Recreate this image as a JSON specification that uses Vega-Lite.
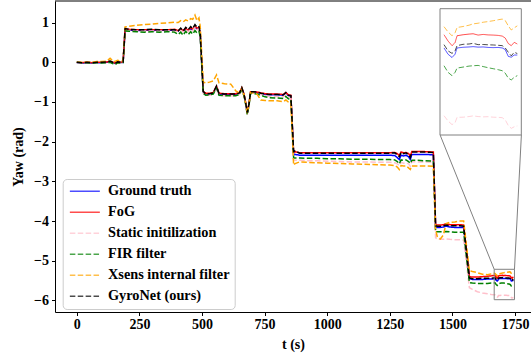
{
  "$schema": "https://vega.github.io/schema/vega-lite/v6.json",
  "width": 476,
  "height": 311,
  "autosize": {"type": "none"},
  "padding": {"left": 55, "top": 1, "right": 0, "bottom": 42},
  "datasets": {
    "yaw": [
      {"t": 0, "Ground truth": -0.01, "FoG": 0.0, "Static initilization": -0.01, "FIR filter": 0.0, "Xsens internal filter": 0.0, "GyroNet (ours)": 0.0},
      {"t": 20, "Ground truth": -0.02, "FoG": -0.01, "Static initilization": -0.02, "FIR filter": -0.01, "Xsens internal filter": 0.0, "GyroNet (ours)": -0.01},
      {"t": 40, "Ground truth": -0.01, "FoG": 0.0, "Static initilization": -0.01, "FIR filter": -0.01, "Xsens internal filter": 0.01, "GyroNet (ours)": 0.0},
      {"t": 60, "Ground truth": -0.02, "FoG": -0.01, "Static initilization": -0.02, "FIR filter": -0.02, "Xsens internal filter": 0.0, "GyroNet (ours)": -0.01},
      {"t": 80, "Ground truth": -0.01, "FoG": 0.0, "Static initilization": -0.01, "FIR filter": -0.01, "Xsens internal filter": 0.02, "GyroNet (ours)": 0.0},
      {"t": 100, "Ground truth": -0.01, "FoG": 0.0, "Static initilization": -0.01, "FIR filter": -0.02, "Xsens internal filter": 0.02, "GyroNet (ours)": 0.0},
      {"t": 120, "Ground truth": 0.0, "FoG": 0.01, "Static initilization": -0.01, "FIR filter": -0.01, "Xsens internal filter": 0.03, "GyroNet (ours)": 0.01},
      {"t": 133, "Ground truth": 0.01, "FoG": 0.02, "Static initilization": 0.0, "FIR filter": 0.0, "Xsens internal filter": 0.1, "GyroNet (ours)": 0.03},
      {"t": 143, "Ground truth": -0.01, "FoG": 0.0, "Static initilization": -0.02, "FIR filter": -0.03, "Xsens internal filter": 0.04, "GyroNet (ours)": 0.0},
      {"t": 153, "Ground truth": -0.03, "FoG": -0.02, "Static initilization": -0.04, "FIR filter": -0.06, "Xsens internal filter": 0.02, "GyroNet (ours)": -0.03},
      {"t": 163, "Ground truth": 0.0, "FoG": 0.01, "Static initilization": -0.01, "FIR filter": -0.01, "Xsens internal filter": 0.05, "GyroNet (ours)": 0.01},
      {"t": 175, "Ground truth": -0.01, "FoG": 0.0, "Static initilization": -0.02, "FIR filter": -0.02, "Xsens internal filter": 0.03, "GyroNet (ours)": 0.0},
      {"t": 185, "Ground truth": 0.0, "FoG": 0.01, "Static initilization": -0.01, "FIR filter": -0.01, "Xsens internal filter": 0.04, "GyroNet (ours)": 0.01},
      {"t": 193, "Ground truth": 0.82, "FoG": 0.84, "Static initilization": 0.8, "FIR filter": 0.79, "Xsens internal filter": 0.89, "GyroNet (ours)": 0.85},
      {"t": 210, "Ground truth": 0.81, "FoG": 0.83, "Static initilization": 0.8, "FIR filter": 0.78, "Xsens internal filter": 0.91, "GyroNet (ours)": 0.83},
      {"t": 240, "Ground truth": 0.8, "FoG": 0.82, "Static initilization": 0.79, "FIR filter": 0.77, "Xsens internal filter": 0.93, "GyroNet (ours)": 0.82},
      {"t": 270, "Ground truth": 0.81, "FoG": 0.82, "Static initilization": 0.79, "FIR filter": 0.76, "Xsens internal filter": 0.95, "GyroNet (ours)": 0.82},
      {"t": 300, "Ground truth": 0.8, "FoG": 0.82, "Static initilization": 0.79, "FIR filter": 0.77, "Xsens internal filter": 0.96, "GyroNet (ours)": 0.83},
      {"t": 330, "Ground truth": 0.81, "FoG": 0.82, "Static initilization": 0.79, "FIR filter": 0.76, "Xsens internal filter": 0.98, "GyroNet (ours)": 0.82},
      {"t": 360, "Ground truth": 0.8, "FoG": 0.82, "Static initilization": 0.79, "FIR filter": 0.77, "Xsens internal filter": 0.99, "GyroNet (ours)": 0.82},
      {"t": 390, "Ground truth": 0.81, "FoG": 0.83, "Static initilization": 0.79, "FIR filter": 0.76, "Xsens internal filter": 1.01, "GyroNet (ours)": 0.82},
      {"t": 405, "Ground truth": 0.79, "FoG": 0.8, "Static initilization": 0.77, "FIR filter": 0.7, "Xsens internal filter": 1.0, "GyroNet (ours)": 0.79},
      {"t": 415, "Ground truth": 0.83, "FoG": 0.84, "Static initilization": 0.81, "FIR filter": 0.76, "Xsens internal filter": 1.05, "GyroNet (ours)": 0.86},
      {"t": 425, "Ground truth": 0.78, "FoG": 0.8, "Static initilization": 0.76, "FIR filter": 0.68, "Xsens internal filter": 1.02, "GyroNet (ours)": 0.79},
      {"t": 435, "Ground truth": 0.84, "FoG": 0.85, "Static initilization": 0.82, "FIR filter": 0.78, "Xsens internal filter": 1.07, "GyroNet (ours)": 0.88},
      {"t": 445, "Ground truth": 0.79, "FoG": 0.81, "Static initilization": 0.77, "FIR filter": 0.7, "Xsens internal filter": 1.04, "GyroNet (ours)": 0.82},
      {"t": 455, "Ground truth": 0.85, "FoG": 0.87, "Static initilization": 0.83, "FIR filter": 0.77, "Xsens internal filter": 1.1, "GyroNet (ours)": 0.9},
      {"t": 463, "Ground truth": 0.81, "FoG": 0.83, "Static initilization": 0.79, "FIR filter": 0.71, "Xsens internal filter": 1.08, "GyroNet (ours)": 0.85},
      {"t": 472, "Ground truth": 0.9, "FoG": 0.91, "Static initilization": 0.88, "FIR filter": 0.8, "Xsens internal filter": 1.19, "GyroNet (ours)": 0.95},
      {"t": 480, "Ground truth": 0.84, "FoG": 0.86, "Static initilization": 0.82, "FIR filter": 0.74, "Xsens internal filter": 1.05, "GyroNet (ours)": 0.88},
      {"t": 488, "Ground truth": 0.86, "FoG": 0.88, "Static initilization": 0.84, "FIR filter": 0.78, "Xsens internal filter": 1.12, "GyroNet (ours)": 0.9},
      {"t": 493, "Ground truth": 0.7, "FoG": 0.72, "Static initilization": 0.68, "FIR filter": 0.64, "Xsens internal filter": 0.9, "GyroNet (ours)": 0.74},
      {"t": 505, "Ground truth": -0.75, "FoG": -0.73, "Static initilization": -0.78, "FIR filter": -0.78, "Xsens internal filter": -0.5, "GyroNet (ours)": -0.74},
      {"t": 515, "Ground truth": -0.8, "FoG": -0.78, "Static initilization": -0.83, "FIR filter": -0.83, "Xsens internal filter": -0.52, "GyroNet (ours)": -0.79},
      {"t": 530, "Ground truth": -0.8, "FoG": -0.78, "Static initilization": -0.83, "FIR filter": -0.82, "Xsens internal filter": -0.5, "GyroNet (ours)": -0.79},
      {"t": 545, "Ground truth": -0.78, "FoG": -0.76, "Static initilization": -0.81, "FIR filter": -0.8, "Xsens internal filter": -0.47, "GyroNet (ours)": -0.77},
      {"t": 558, "Ground truth": -0.62, "FoG": -0.6, "Static initilization": -0.65, "FIR filter": -0.64, "Xsens internal filter": -0.32, "GyroNet (ours)": -0.6},
      {"t": 568, "Ground truth": -0.8, "FoG": -0.78, "Static initilization": -0.83, "FIR filter": -0.83, "Xsens internal filter": -0.52, "GyroNet (ours)": -0.79},
      {"t": 590, "Ground truth": -0.81, "FoG": -0.79, "Static initilization": -0.84, "FIR filter": -0.84, "Xsens internal filter": -0.54, "GyroNet (ours)": -0.8},
      {"t": 615, "Ground truth": -0.81, "FoG": -0.79, "Static initilization": -0.84, "FIR filter": -0.84, "Xsens internal filter": -0.55, "GyroNet (ours)": -0.8},
      {"t": 635, "Ground truth": -0.81, "FoG": -0.79, "Static initilization": -0.84, "FIR filter": -0.84, "Xsens internal filter": -0.72, "GyroNet (ours)": -0.8},
      {"t": 650, "Ground truth": -0.78, "FoG": -0.76, "Static initilization": -0.81, "FIR filter": -0.81, "Xsens internal filter": -0.78, "GyroNet (ours)": -0.77},
      {"t": 659, "Ground truth": -0.66, "FoG": -0.64, "Static initilization": -0.69, "FIR filter": -0.69, "Xsens internal filter": -0.66, "GyroNet (ours)": -0.64},
      {"t": 668, "Ground truth": -0.82, "FoG": -0.8, "Static initilization": -0.85, "FIR filter": -0.85, "Xsens internal filter": -0.82, "GyroNet (ours)": -0.81},
      {"t": 675, "Ground truth": -1.05, "FoG": -1.03, "Static initilization": -1.08, "FIR filter": -1.08, "Xsens internal filter": -1.05, "GyroNet (ours)": -1.04},
      {"t": 681, "Ground truth": -1.28, "FoG": -1.26, "Static initilization": -1.32, "FIR filter": -1.32, "Xsens internal filter": -1.28, "GyroNet (ours)": -1.27},
      {"t": 688, "Ground truth": -1.05, "FoG": -1.03, "Static initilization": -1.08, "FIR filter": -1.08, "Xsens internal filter": -1.05, "GyroNet (ours)": -1.04},
      {"t": 694, "Ground truth": -0.76, "FoG": -0.74, "Static initilization": -0.78, "FIR filter": -0.78, "Xsens internal filter": -0.76, "GyroNet (ours)": -0.74},
      {"t": 705, "Ground truth": -0.76, "FoG": -0.74, "Static initilization": -0.78, "FIR filter": -0.79, "Xsens internal filter": -0.77, "GyroNet (ours)": -0.74},
      {"t": 720, "Ground truth": -0.77, "FoG": -0.75, "Static initilization": -0.79, "FIR filter": -0.8, "Xsens internal filter": -0.8, "GyroNet (ours)": -0.75},
      {"t": 735, "Ground truth": -0.79, "FoG": -0.77, "Static initilization": -0.81, "FIR filter": -0.83, "Xsens internal filter": -0.95, "GyroNet (ours)": -0.78},
      {"t": 752, "Ground truth": -0.81, "FoG": -0.79, "Static initilization": -0.84, "FIR filter": -0.87, "Xsens internal filter": -0.96, "GyroNet (ours)": -0.8},
      {"t": 770, "Ground truth": -0.82, "FoG": -0.8, "Static initilization": -0.86, "FIR filter": -0.89, "Xsens internal filter": -0.97, "GyroNet (ours)": -0.81},
      {"t": 800, "Ground truth": -0.82, "FoG": -0.8, "Static initilization": -0.86, "FIR filter": -0.9, "Xsens internal filter": -0.97, "GyroNet (ours)": -0.81},
      {"t": 825, "Ground truth": -0.83, "FoG": -0.81, "Static initilization": -0.87, "FIR filter": -0.91, "Xsens internal filter": -0.99, "GyroNet (ours)": -0.82},
      {"t": 835, "Ground truth": -0.78, "FoG": -0.76, "Static initilization": -0.82, "FIR filter": -0.86, "Xsens internal filter": -0.95, "GyroNet (ours)": -0.76},
      {"t": 845, "Ground truth": -0.84, "FoG": -0.82, "Static initilization": -0.88, "FIR filter": -0.92, "Xsens internal filter": -1.0, "GyroNet (ours)": -0.83},
      {"t": 855, "Ground truth": -0.85, "FoG": -0.83, "Static initilization": -0.89, "FIR filter": -0.93, "Xsens internal filter": -1.02, "GyroNet (ours)": -0.84},
      {"t": 866, "Ground truth": -2.33, "FoG": -2.28, "Static initilization": -2.46, "FIR filter": -2.41, "Xsens internal filter": -2.59, "GyroNet (ours)": -2.25},
      {"t": 872, "Ground truth": -2.32, "FoG": -2.25, "Static initilization": -2.47, "FIR filter": -2.41, "Xsens internal filter": -2.55, "GyroNet (ours)": -2.23},
      {"t": 890, "Ground truth": -2.34, "FoG": -2.28, "Static initilization": -2.47, "FIR filter": -2.41, "Xsens internal filter": -2.51, "GyroNet (ours)": -2.29},
      {"t": 920, "Ground truth": -2.34, "FoG": -2.28, "Static initilization": -2.48, "FIR filter": -2.42, "Xsens internal filter": -2.52, "GyroNet (ours)": -2.29},
      {"t": 960, "Ground truth": -2.34, "FoG": -2.28, "Static initilization": -2.48, "FIR filter": -2.42, "Xsens internal filter": -2.53, "GyroNet (ours)": -2.29},
      {"t": 1000, "Ground truth": -2.34, "FoG": -2.28, "Static initilization": -2.49, "FIR filter": -2.43, "Xsens internal filter": -2.54, "GyroNet (ours)": -2.29},
      {"t": 1050, "Ground truth": -2.34, "FoG": -2.28, "Static initilization": -2.5, "FIR filter": -2.43, "Xsens internal filter": -2.55, "GyroNet (ours)": -2.29},
      {"t": 1100, "Ground truth": -2.34, "FoG": -2.28, "Static initilization": -2.51, "FIR filter": -2.44, "Xsens internal filter": -2.56, "GyroNet (ours)": -2.29},
      {"t": 1150, "Ground truth": -2.34, "FoG": -2.28, "Static initilization": -2.51, "FIR filter": -2.44, "Xsens internal filter": -2.57, "GyroNet (ours)": -2.29},
      {"t": 1200, "Ground truth": -2.34, "FoG": -2.28, "Static initilization": -2.52, "FIR filter": -2.45, "Xsens internal filter": -2.58, "GyroNet (ours)": -2.29},
      {"t": 1250, "Ground truth": -2.34, "FoG": -2.28, "Static initilization": -2.52, "FIR filter": -2.45, "Xsens internal filter": -2.59, "GyroNet (ours)": -2.29},
      {"t": 1270, "Ground truth": -2.35, "FoG": -2.27, "Static initilization": -2.53, "FIR filter": -2.46, "Xsens internal filter": -2.6, "GyroNet (ours)": -2.28},
      {"t": 1280, "Ground truth": -2.4, "FoG": -2.3, "Static initilization": -2.56, "FIR filter": -2.5, "Xsens internal filter": -2.64, "GyroNet (ours)": -2.33},
      {"t": 1288, "Ground truth": -2.45, "FoG": -2.35, "Static initilization": -2.6, "FIR filter": -2.56, "Xsens internal filter": -2.7, "GyroNet (ours)": -2.38},
      {"t": 1295, "Ground truth": -2.34, "FoG": -2.26, "Static initilization": -2.52, "FIR filter": -2.46, "Xsens internal filter": -2.6, "GyroNet (ours)": -2.27},
      {"t": 1305, "Ground truth": -2.36, "FoG": -2.28, "Static initilization": -2.54, "FIR filter": -2.47, "Xsens internal filter": -2.61, "GyroNet (ours)": -2.3},
      {"t": 1315, "Ground truth": -2.34, "FoG": -2.27, "Static initilization": -2.53, "FIR filter": -2.46, "Xsens internal filter": -2.61, "GyroNet (ours)": -2.28},
      {"t": 1325, "Ground truth": -2.38, "FoG": -2.3, "Static initilization": -2.56, "FIR filter": -2.5, "Xsens internal filter": -2.66, "GyroNet (ours)": -2.33},
      {"t": 1332, "Ground truth": -2.45, "FoG": -2.36, "Static initilization": -2.62, "FIR filter": -2.55, "Xsens internal filter": -2.7, "GyroNet (ours)": -2.4},
      {"t": 1338, "Ground truth": -2.32, "FoG": -2.25, "Static initilization": -2.5, "FIR filter": -2.47, "Xsens internal filter": -2.61, "GyroNet (ours)": -2.26},
      {"t": 1360, "Ground truth": -2.32, "FoG": -2.25, "Static initilization": -2.51, "FIR filter": -2.47, "Xsens internal filter": -2.61, "GyroNet (ours)": -2.26},
      {"t": 1390, "Ground truth": -2.32, "FoG": -2.25, "Static initilization": -2.51, "FIR filter": -2.48, "Xsens internal filter": -2.61, "GyroNet (ours)": -2.26},
      {"t": 1424, "Ground truth": -2.33, "FoG": -2.26, "Static initilization": -2.52, "FIR filter": -2.49, "Xsens internal filter": -2.62, "GyroNet (ours)": -2.27},
      {"t": 1433, "Ground truth": -4.15, "FoG": -4.09, "Static initilization": -4.42, "FIR filter": -4.27, "Xsens internal filter": -4.22, "GyroNet (ours)": -4.12},
      {"t": 1440, "Ground truth": -4.16, "FoG": -4.1, "Static initilization": -4.46, "FIR filter": -4.27, "Xsens internal filter": -4.4, "GyroNet (ours)": -4.13},
      {"t": 1452, "Ground truth": -4.16, "FoG": -4.1, "Static initilization": -4.46, "FIR filter": -4.27, "Xsens internal filter": -4.45, "GyroNet (ours)": -4.13},
      {"t": 1464, "Ground truth": -4.15, "FoG": -4.09, "Static initilization": -4.46, "FIR filter": -4.27, "Xsens internal filter": -4.35, "GyroNet (ours)": -4.12},
      {"t": 1475, "Ground truth": -4.13, "FoG": -4.07, "Static initilization": -4.45, "FIR filter": -4.26, "Xsens internal filter": -4.06, "GyroNet (ours)": -4.1},
      {"t": 1490, "Ground truth": -4.15, "FoG": -4.09, "Static initilization": -4.46, "FIR filter": -4.27, "Xsens internal filter": -4.03, "GyroNet (ours)": -4.12},
      {"t": 1510, "Ground truth": -4.16, "FoG": -4.09, "Static initilization": -4.47, "FIR filter": -4.28, "Xsens internal filter": -4.02, "GyroNet (ours)": -4.12},
      {"t": 1530, "Ground truth": -4.16, "FoG": -4.09, "Static initilization": -4.47, "FIR filter": -4.28, "Xsens internal filter": -4.0, "GyroNet (ours)": -4.12},
      {"t": 1545, "Ground truth": -4.16, "FoG": -4.1, "Static initilization": -4.48, "FIR filter": -4.28, "Xsens internal filter": -4.0, "GyroNet (ours)": -4.13},
      {"t": 1568, "Ground truth": -5.45, "FoG": -5.4, "Static initilization": -5.68, "FIR filter": -5.55, "Xsens internal filter": -5.25, "GyroNet (ours)": -5.43},
      {"t": 1580, "Ground truth": -5.47, "FoG": -5.41, "Static initilization": -5.72, "FIR filter": -5.56, "Xsens internal filter": -5.27, "GyroNet (ours)": -5.45},
      {"t": 1600, "Ground truth": -5.47, "FoG": -5.41, "Static initilization": -5.78, "FIR filter": -5.57, "Xsens internal filter": -5.3, "GyroNet (ours)": -5.45},
      {"t": 1620, "Ground truth": -5.47, "FoG": -5.4, "Static initilization": -5.81, "FIR filter": -5.57, "Xsens internal filter": -5.34, "GyroNet (ours)": -5.44},
      {"t": 1640, "Ground truth": -5.46, "FoG": -5.39, "Static initilization": -5.83, "FIR filter": -5.57, "Xsens internal filter": -5.35, "GyroNet (ours)": -5.44},
      {"t": 1655, "Ground truth": -5.46, "FoG": -5.38, "Static initilization": -5.85, "FIR filter": -5.56, "Xsens internal filter": -5.33, "GyroNet (ours)": -5.44},
      {"t": 1668, "Ground truth": -5.452, "FoG": -5.368, "Static initilization": -5.858, "FIR filter": -5.556, "Xsens internal filter": -5.315, "GyroNet (ours)": -5.43},
      {"t": 1671, "Ground truth": -5.452, "FoG": -5.372, "Static initilization": -5.863, "FIR filter": -5.56, "Xsens internal filter": -5.323, "GyroNet (ours)": -5.432},
      {"t": 1675, "Ground truth": -5.49, "FoG": -5.41, "Static initilization": -5.895, "FIR filter": -5.6, "Xsens internal filter": -5.355, "GyroNet (ours)": -5.47},
      {"t": 1679, "Ground truth": -5.51, "FoG": -5.438, "Static initilization": -5.917, "FIR filter": -5.62, "Xsens internal filter": -5.378, "GyroNet (ours)": -5.485},
      {"t": 1682, "Ground truth": -5.49, "FoG": -5.42, "Static initilization": -5.905, "FIR filter": -5.6, "Xsens internal filter": -5.36, "GyroNet (ours)": -5.47},
      {"t": 1684, "Ground truth": -5.452, "FoG": -5.378, "Static initilization": -5.873, "FIR filter": -5.574, "Xsens internal filter": -5.328, "GyroNet (ours)": -5.438},
      {"t": 1690, "Ground truth": -5.448, "FoG": -5.372, "Static initilization": -5.872, "FIR filter": -5.568, "Xsens internal filter": -5.322, "GyroNet (ours)": -5.43},
      {"t": 1696, "Ground truth": -5.446, "FoG": -5.368, "Static initilization": -5.868, "FIR filter": -5.562, "Xsens internal filter": -5.314, "GyroNet (ours)": -5.428},
      {"t": 1700, "Ground truth": -5.444, "FoG": -5.366, "Static initilization": -5.864, "FIR filter": -5.56, "Xsens internal filter": -5.306, "GyroNet (ours)": -5.424},
      {"t": 1705, "Ground truth": -5.447, "FoG": -5.374, "Static initilization": -5.868, "FIR filter": -5.558, "Xsens internal filter": -5.302, "GyroNet (ours)": -5.432},
      {"t": 1710, "Ground truth": -5.446, "FoG": -5.37, "Static initilization": -5.87, "FIR filter": -5.565, "Xsens internal filter": -5.296, "GyroNet (ours)": -5.431},
      {"t": 1715, "Ground truth": -5.449, "FoG": -5.373, "Static initilization": -5.869, "FIR filter": -5.572, "Xsens internal filter": -5.292, "GyroNet (ours)": -5.433},
      {"t": 1720, "Ground truth": -5.45, "FoG": -5.374, "Static initilization": -5.872, "FIR filter": -5.578, "Xsens internal filter": -5.287, "GyroNet (ours)": -5.434},
      {"t": 1725, "Ground truth": -5.449, "FoG": -5.376, "Static initilization": -5.873, "FIR filter": -5.584, "Xsens internal filter": -5.281, "GyroNet (ours)": -5.436},
      {"t": 1729, "Ground truth": -5.452, "FoG": -5.38, "Static initilization": -5.875, "FIR filter": -5.59, "Xsens internal filter": -5.277, "GyroNet (ours)": -5.438},
      {"t": 1732, "Ground truth": -5.462, "FoG": -5.392, "Static initilization": -5.888, "FIR filter": -5.605, "Xsens internal filter": -5.286, "GyroNet (ours)": -5.452},
      {"t": 1735, "Ground truth": -5.503, "FoG": -5.425, "Static initilization": -5.922, "FIR filter": -5.635, "Xsens internal filter": -5.318, "GyroNet (ours)": -5.478},
      {"t": 1738, "Ground truth": -5.508, "FoG": -5.438, "Static initilization": -5.94, "FIR filter": -5.646, "Xsens internal filter": -5.343, "GyroNet (ours)": -5.5},
      {"t": 1741, "Ground truth": -5.495, "FoG": -5.418, "Static initilization": -5.93, "FIR filter": -5.63, "Xsens internal filter": -5.33, "GyroNet (ours)": -5.478},
      {"t": 1744, "Ground truth": -5.495, "FoG": -5.428, "Static initilization": -5.925, "FIR filter": -5.62, "Xsens internal filter": -5.318, "GyroNet (ours)": -5.486}
    ]
  },
  "layer": [
    {
      "layer": [
        {
          "data": {"name": "yaw"},
          "transform": [
            {"fold": ["Ground truth", "FoG", "Static initilization", "FIR filter", "Xsens internal filter", "GyroNet (ours)"], "as": ["series", "yaw"]}
          ],
          "mark": {"type": "line", "strokeWidth": 1.5},
          "encoding": {
            "x": {
              "field": "t", "type": "quantitative",
              "scale": {"domain": [-87, 1814], "nice": false, "zero": false},
              "axis": {"title": "t (s)", "values": [0, 250, 500, 750, 1000, 1250, 1500, 1750], "format": "d", "labelPadding": 2, "titlePadding": 6}
            },
            "y": {
              "field": "yaw", "type": "quantitative",
              "scale": {"domain": [-6.29, 1.544], "nice": false, "zero": false},
              "axis": {"title": "Yaw (rad)", "values": [-6, -5, -4, -3, -2, -1, 0, 1], "format": "d", "labelPadding": 3, "titlePadding": 8}
            },
            "color": {
              "field": "series", "type": "nominal",
              "scale": {
                "domain": ["Ground truth", "FoG", "Static initilization", "FIR filter", "Xsens internal filter", "GyroNet (ours)"],
                "range": ["#0000ff", "#ff0000", "#ffc0cb", "#008000", "#ffa500", "#000000"]
              },
              "legend": {"title": null, "orient": "none", "legendX": 7.7, "legendY": 178}
            },
            "strokeDash": {
              "field": "series", "type": "nominal",
              "scale": {
                "domain": ["Ground truth", "FoG", "Static initilization", "FIR filter", "Xsens internal filter", "GyroNet (ours)"],
                "range": [[1, 0], [1, 0], [5.5, 2.4], [5.5, 2.4], [5.5, 2.4], [5.5, 2.4]]
              },
              "legend": {"title": null, "orient": "none", "legendX": 7.7, "legendY": 178}
            }
          }
        },
        {
          "data": {"values": [{}]},
          "mark": {"type": "rect", "fillOpacity": 0, "stroke": "#808080", "strokeWidth": 1},
          "encoding": {
            "x": {"datum": 1667}, "x2": {"datum": 1748},
            "y": {"datum": -5.214}, "y2": {"datum": -5.98}
          }
        },
        {
          "data": {"values": [{}]},
          "mark": {"type": "rule", "color": "#808080", "strokeWidth": 1},
          "encoding": {
            "x": {"datum": 1451}, "y": {"datum": -1.831},
            "x2": {"datum": 1667}, "y2": {"datum": -5.214}
          }
        },
        {
          "data": {"values": [{}]},
          "mark": {"type": "rule", "color": "#808080", "strokeWidth": 1},
          "encoding": {
            "x": {"datum": 1775.6}, "y": {"datum": -1.831},
            "x2": {"datum": 1748}, "y2": {"datum": -5.214}
          }
        },
        {
          "data": {"values": [{}]},
          "mark": {"type": "rule", "color": "#000000", "strokeWidth": 1},
          "encoding": {"y": {"datum": 1.544}}
        }
      ]
    },
    {
      "layer": [
        {
          "data": {"values": [{}]},
          "mark": {"type": "rect", "fill": "#ffffff", "stroke": "#808080", "strokeWidth": 1},
          "encoding": {
            "x": {"datum": 1667, "scale": {"domain": [1667, 1748], "range": [385, 466.3], "nice": false, "zero": false}, "axis": null},
            "x2": {"datum": 1748},
            "y": {"datum": -5.98, "scale": {"domain": [-5.98, -5.214], "range": [134, 7.7], "nice": false, "zero": false}, "axis": null},
            "y2": {"datum": -5.214}
          }
        },
        {
          "data": {"name": "yaw"},
          "transform": [
            {"filter": "datum.t >= 1671"},
            {"fold": ["Ground truth", "FoG", "Static initilization", "FIR filter", "Xsens internal filter", "GyroNet (ours)"], "as": ["series", "yaw"]}
          ],
          "mark": {"type": "line", "strokeWidth": 1, "opacity": 0.7},
          "encoding": {
            "x": {"field": "t", "type": "quantitative", "scale": {"domain": [1667, 1748], "range": [385, 466.3], "nice": false, "zero": false}, "axis": null},
            "y": {"field": "yaw", "type": "quantitative", "scale": {"domain": [-5.98, -5.214], "range": [134, 7.7], "nice": false, "zero": false}, "axis": null},
            "color": {"field": "series", "type": "nominal"},
            "strokeDash": {"field": "series", "type": "nominal"}
          }
        }
      ]
    }
  ],
  "resolve": {"scale": {"x": "independent", "y": "independent"}},
  "config": {
    "view": {"stroke": null},
    "font": "Liberation Serif",
    "axis": {
      "labelFont": "Liberation Serif", "labelFontSize": 14, "labelFontWeight": "bold", "labelColor": "#000000",
      "titleFont": "Liberation Serif", "titleFontSize": 14, "titleFontWeight": "bold", "titleColor": "#000000",
      "domainColor": "#000000", "domainWidth": 1, "tickColor": "#000000", "tickWidth": 1, "tickSize": 3.5, "grid": false
    },
    "legend": {
      "labelFont": "Liberation Serif", "labelFontSize": 14.3, "labelFontWeight": "bold", "labelColor": "#000000",
      "symbolType": "M-3,0H3", "symbolSize": 100, "symbolStrokeWidth": 1.5, "symbolOffset": 10,
      "labelOffset": 16, "rowPadding": 6, "padding": 5,
      "fillColor": "rgba(255,255,255,0.8)", "strokeColor": "#cccccc", "cornerRadius": 4
    }
  }
}
